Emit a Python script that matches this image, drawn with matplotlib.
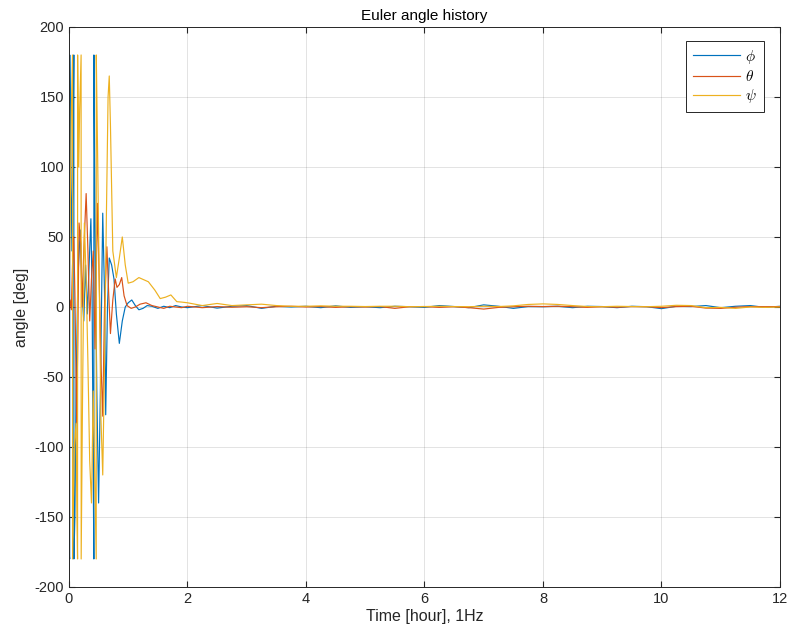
import numpy as np
import matplotlib.pyplot as plt

# -------------------
# Data
# -------------------
t_phi_early = [0.000, 0.012, 0.013, 0.030, 0.050, 0.070, 0.082, 0.083, 0.100, 0.120,
               0.150, 0.190, 0.220, 0.250, 0.280, 0.310, 0.340, 0.370, 0.390, 0.410,
               0.420, 0.421, 0.440, 0.470, 0.500, 0.530, 0.570, 0.600, 0.620, 0.650,
               0.680, 0.720, 0.760, 0.800, 0.850, 0.900, 0.950, 1.000, 1.060, 1.120,
               1.180, 1.250, 1.320, 1.400, 1.500, 1.600, 1.700, 1.800, 1.900]
phi_early = [-175, -180, 180, 110, 40, 120, 180, -180, -150, -60,
             20, 55, 10, -10, 30, -5, 30, 63, 10, -120,
             -180, 180, 60, -60, -140, -60, 67, 10, -77, 0,
             35, 30, 20, -5, -26, -10, 0, 3, 5, 1,
             -2, -1, 1, 0.5, -1, 0.5, -0.5, 1, 0]

t_theta_early = [0.00, 0.02, 0.04, 0.06, 0.08, 0.10, 0.13, 0.15, 0.17, 0.20,
                 0.22, 0.25, 0.29, 0.32, 0.35, 0.38, 0.41, 0.44, 0.48, 0.51,
                 0.54, 0.57, 0.60, 0.64, 0.67, 0.70, 0.74, 0.78, 0.81, 0.85,
                 0.89, 0.93, 0.98, 1.05, 1.12, 1.20, 1.30, 1.40, 1.50, 1.60,
                 1.70, 1.80, 1.90]
theta_early = [-5, 5, -2, 30, 50, 10, -83, -20, 60, 45,
               0, 40, 81, 40, -10, 20, 40, -30, 74, 20,
               -40, -78, 0, 43, 10, -19, 5, 20, 14, 16,
               21, 8, 1, -1, 0, 2, 3, 1, 0, -1,
               0.5, 0, -0.5]

t_psi_early = [0.000, 0.020, 0.040, 0.060, 0.061, 0.090, 0.120, 0.135, 0.145, 0.146,
               0.165, 0.180, 0.205, 0.206, 0.230, 0.260, 0.290, 0.320, 0.350, 0.380,
               0.410, 0.440, 0.460, 0.461, 0.480, 0.510, 0.540, 0.570, 0.600, 0.630,
               0.660, 0.680, 0.700, 0.740, 0.800, 0.850, 0.900, 0.950, 1.000, 1.080,
               1.180, 1.340, 1.450, 1.540, 1.630, 1.720, 1.820, 1.900]
psi_early = [-5, 60, 140, 180, -180, -100, -83, -150, -180, 180,
             100, 140, 180, -180, -60, 60, 20, -40, -110, -140,
             -60, -130, -180, 180, 120, 20, -80, -120, -40, 60,
             150, 165, 130, 40, 21, 35, 50, 30, 17, 18,
             21, 18, 12, 6, 7, 8.6, 3.8, 3.5]

t_tail = np.arange(2.0, 12.01, 0.25)
phi_tail = [-0.5, 1, -0.8, 0.5, 1, -1, 0.5, 0, 0.5, -0.5,
            0.8, -0.3, 0.2, -0.5, 0.5, 0.2, -0.3, 1.0, 0.3, -0.5,
            1.5, 0.5, -1.0, 0.3, 0.2, 0.5, -0.5, 0.5, 0.3, -0.5,
            0.5, 0.2, -1.2, 0.5, 0.3, 1.0, -0.5, 0.5, 1.0, -0.3, 0.5]
theta_tail = [0.5, -0.5, 0.3, -0.2, 0.2, -0.5, 0.2, 0.5, 0, 0.3,
              -0.3, 0.2, 0, 0.3, -1.0, 0.2, 0.3, -0.3, 0.2, -0.5,
              -1.5, -0.3, 0.2, 0.5, 0.3, 0.5, 0.2, -0.3, 0.2, -0.2,
              0.3, 0.2, -0.5, 0.3, 0.5, -0.8, -1.0, -0.2, 0.3, 0.2, 0.3]
psi_tail = [3, 1, 2.5, 1, 1.5, 2, 1, 0.5, 0.5, 0.8,
            0.5, 0.5, 0.3, 0.5, 0.5, 0.2, 0.3, 0.5, 0.3, 0.2,
            0.5, 0.3, 0.8, 1.8, 2.2, 1.8, 1.0, 0.3, 0.2, 0.5,
            0.3, 0.2, 0.5, 1.2, 1.0, -0.5, -0.3, -1.0, 0.0, -0.3, 0.0]

labels = [r"$\phi$", r"$\theta$", r"$\psi$"]
colors = ["#0072BD", "#D95319", "#EDB120"]

# -------------------
# Plot
# -------------------
plt.rcParams["font.family"] = ["Liberation Sans", "DejaVu Sans"]
plt.rcParams["mathtext.fontset"] = "cm"
plt.rcParams["axes.unicode_minus"] = False

fig = plt.figure(figsize=(7.9, 6.42), dpi=100)
ax = fig.add_axes([0.0873, 0.0857, 0.9, 0.8723])

series = [
    (np.concatenate([t_phi_early, t_tail]), np.concatenate([phi_early, phi_tail])),
    (np.concatenate([t_theta_early, t_tail]), np.concatenate([theta_early, theta_tail])),
    (np.concatenate([t_psi_early, t_tail]), np.concatenate([psi_early, psi_tail])),
]
for (t, y), lab, c in zip(series, labels, colors):
    ax.plot(t, y, color=c, lw=0.85, label=lab)

ax.set_xlim(0, 12)
ax.set_ylim(-200, 200)
ax.set_xticks(np.arange(0, 13, 2))
ax.set_yticks(np.arange(-200, 201, 50))
ax.grid(True, color="#262626", alpha=0.15, lw=0.6)
ax.tick_params(direction="in", top=True, right=True, labelsize=10.5,
               colors="#262626", length=4)
for s in ax.spines.values():
    s.set_color("#262626")
    s.set_linewidth(0.7)

ax.set_title("Euler angle history", fontsize=11, color="black", pad=5)
ax.set_xlabel("Time [hour], 1Hz", fontsize=11.5, color="#262626", labelpad=2)
ax.set_ylabel("angle [deg]", fontsize=11.5, color="#262626", labelpad=4)

leg = ax.legend(loc="upper right", bbox_to_anchor=(0.9775, 0.975), borderaxespad=0,
                fontsize=11, handlelength=3.1, fancybox=False, framealpha=1,
                edgecolor="#262626", borderpad=0.45, labelspacing=0.2,
                handletextpad=0.35)
leg.get_frame().set_linewidth(0.7)

fig.savefig("out.png", dpi=100)
